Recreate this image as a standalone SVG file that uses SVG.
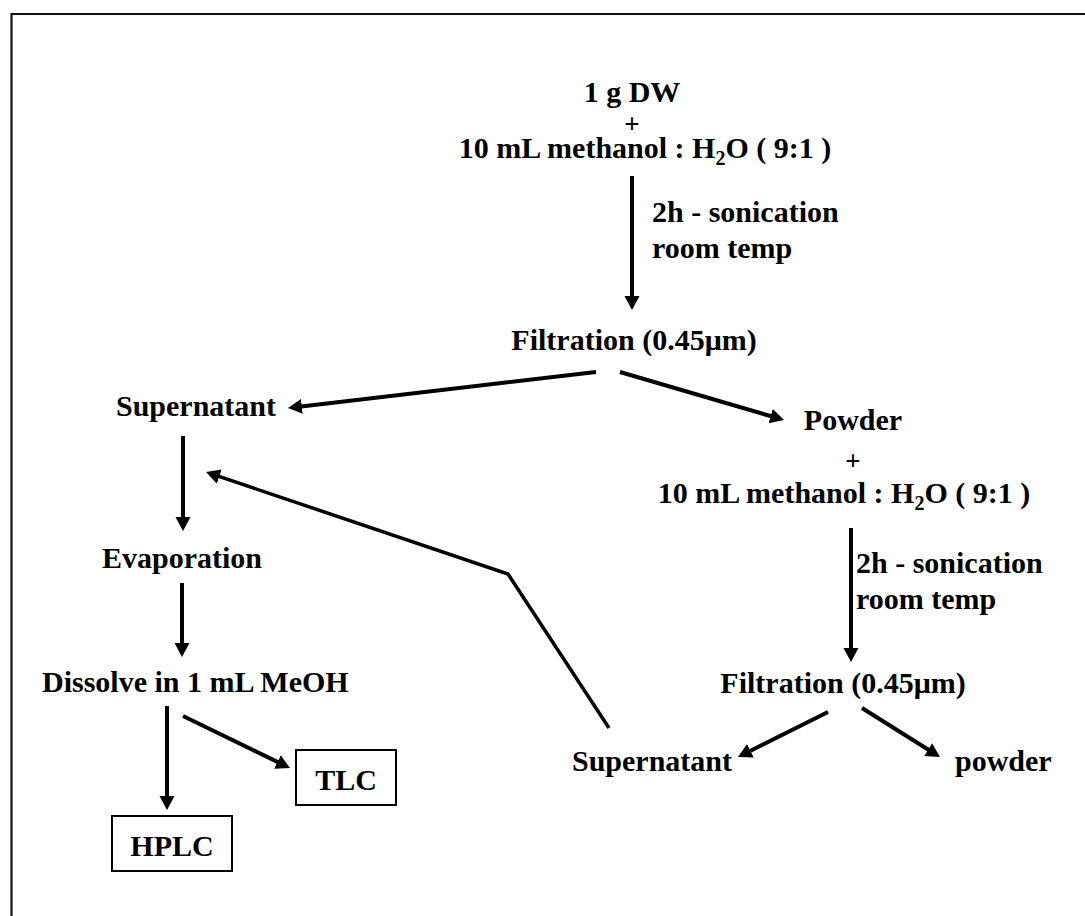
<svg xmlns="http://www.w3.org/2000/svg" width="1085" height="916" viewBox="0 0 1085 916">
<defs>
<style>
text{font-family:"Liberation Serif","Times New Roman",serif;font-weight:bold;font-size:30px;fill:#000}
.c{text-anchor:middle}
.p{font-size:27px}
.ln{stroke:#000;stroke-width:4;fill:none}
.box{fill:#fff;stroke:#000;stroke-width:2}
</style>
<marker id="ah" markerUnits="userSpaceOnUse" markerWidth="15" markerHeight="16" refX="5" refY="7.5" orient="auto">
<path d="M0,0 L14,7.5 L0,15 z" fill="#000"/>
</marker>
</defs>
<rect width="1085" height="916" fill="#fff"/>
<path d="M11.5,916 L11.5,14 L1085,14" fill="none" stroke="#111" stroke-width="2.2"/>
<g id="connectors">
<line class="ln" x1="632" y1="176" x2="632" y2="301" marker-end="url(#ah)"/>
<line class="ln" x1="596" y1="372" x2="296.9" y2="407" marker-end="url(#ah)"/>
<line class="ln" x1="620" y1="372" x2="775.4" y2="417.5" marker-end="url(#ah)"/>
<line class="ln" x1="851" y1="528" x2="851" y2="653" marker-end="url(#ah)"/>
<line class="ln" x1="828" y1="712" x2="746" y2="753" marker-end="url(#ah)"/>
<line class="ln" x1="862" y1="708" x2="932.4" y2="752.2" marker-end="url(#ah)"/>
<polyline class="ln" style="stroke-width:3.5" points="609,728 508,574 214.5,474.9" marker-end="url(#ah)"/>
<line class="ln" x1="183" y1="436" x2="183" y2="522" marker-end="url(#ah)"/>
<line class="ln" x1="182" y1="583" x2="182" y2="648" marker-end="url(#ah)"/>
<line class="ln" x1="167" y1="706" x2="167" y2="801" marker-end="url(#ah)"/>
<line class="ln" x1="183" y1="716" x2="281.9" y2="764.1" marker-end="url(#ah)"/>
</g>
<g id="start">
<text class="c" x="632" y="102">1 g DW</text>
<text class="c p" x="632" y="133">+</text>
<text class="c" x="645" y="158">10 mL methanol : H<tspan font-size="20" dy="7">2</tspan><tspan dy="-7">O ( 9:1 )</tspan></text>
</g>
<g id="cond1">
<text x="652" y="222">2h - sonication</text>
<text x="652" y="258">room temp</text>
</g>
<g id="filtration1"><text class="c" x="634" y="350">Filtration (0.45μm)</text></g>
<g id="supernatant1"><text x="116" y="416">Supernatant</text></g>
<g id="powder1">
<text class="c" x="853" y="430">Powder</text>
<text class="c p" x="853" y="470">+</text>
<text class="c" x="844" y="503">10 mL methanol : H<tspan font-size="20" dy="7">2</tspan><tspan dy="-7">O ( 9:1 )</tspan></text>
</g>
<g id="cond2">
<text x="856" y="573">2h - sonication</text>
<text x="856" y="609">room temp</text>
</g>
<g id="filtration2"><text class="c" x="843" y="693">Filtration (0.45μm)</text></g>
<g id="supernatant2"><text x="572" y="771">Supernatant</text></g>
<g id="powder2"><text x="955" y="771">powder</text></g>
<g id="evaporation"><text x="102" y="568">Evaporation</text></g>
<g id="dissolve"><text x="42" y="692">Dissolve in 1 mL MeOH</text></g>
<g id="tlc">
<rect class="box" x="296" y="750" width="100" height="55"/>
<text class="c" x="346" y="790">TLC</text>
</g>
<g id="hplc">
<rect class="box" x="112" y="816" width="120" height="55"/>
<text class="c" x="172" y="856">HPLC</text>
</g>
</svg>
